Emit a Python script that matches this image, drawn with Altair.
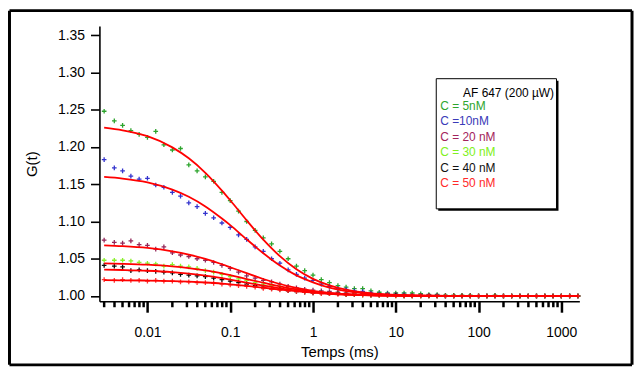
import altair as alt
import pandas as pd

# ---------------- data ----------------
series = ["C = 5nM", "C =10nM", "C = 20 nM", "C = 30 nM", "C = 40 nM", "C = 50 nM"]
point_colors = ["#22a022", "#2a2acc", "#8e1d52", "#84f020", "#000000", "#ff2a2a"]
text_colors = ["#2ea52e", "#3a3ab8", "#a3245c", "#80f020", "#111111", "#ff2a2a"]
legend_title = "AF 647 (200 µW)"

times = [0.003, 0.00398, 0.00501, 0.00631, 0.00794, 0.01, 0.0126, 0.0158, 0.02, 0.0251,
         0.0316, 0.0398, 0.0501, 0.0631, 0.0794, 0.1, 0.126, 0.158, 0.2, 0.251,
         0.316, 0.398, 0.501, 0.631, 0.794, 1.0, 1.26, 1.58, 2.0, 2.51,
         3.16, 3.98, 5.01, 6.31, 7.94, 10.0,
         12.6, 15.8, 20.0, 25.1, 31.6, 39.8, 50.1, 63.1, 79.4, 100.0, 126.0,
         158.0, 200.0, 251.0, 316.0, 398.0, 501.0, 631.0, 794.0, 1000.0, 1259.0, 1585.0]

g5 = [1.248, 1.235, 1.229, 1.222, 1.217, 1.213, 1.221, 1.203, 1.196, 1.198,
      1.176, 1.168, 1.160, 1.154, 1.139, 1.128, 1.114, 1.100, 1.088, 1.078,
      1.070, 1.060, 1.050, 1.040, 1.034, 1.028, 1.022, 1.018, 1.014, 1.012,
      1.010, 1.010, 1.007, 1.005, 1.004, 1.004,
      1.004, 1.004, 1.003, 1.002, 1.002, 1.001, 1.001, 1.001, 1.001, 1.000, 1.000,
      1.001, 1.000, 1.000, 1.000, 1.000, 1.000, 1.000, 1.000, 1.000, 1.000, 1.000]
g10 = [1.183, 1.172, 1.168, 1.161, 1.157, 1.158, 1.149, 1.146, 1.139, 1.134,
       1.125, 1.120, 1.111, 1.105, 1.098, 1.092, 1.082, 1.076, 1.066, 1.060,
       1.050, 1.044, 1.035, 1.029, 1.024, 1.021, 1.016, 1.013, 1.010, 1.009,
       1.007, 1.006, 1.004, 1.003, 1.003, 1.002,
       1.002, 1.001, 1.001, 1.001, 1.001, 1.000, 1.000, 1.000, 1.000, 1.000, 1.000,
       1.000, 1.000, 1.000, 1.000, 1.000, 1.000, 1.000, 1.000, 1.000, 1.000, 1.000]
g20 = [1.075, 1.072, 1.071, 1.074, 1.069, 1.068, 1.063, 1.066, 1.058, 1.055,
       1.053, 1.050, 1.048, 1.045, 1.041, 1.037, 1.032, 1.027, 1.024, 1.021,
       1.019, 1.016, 1.013, 1.011, 1.009, 1.008, 1.007, 1.006, 1.005, 1.004,
       1.004, 1.003, 1.003, 1.002, 1.002, 1.002,
       1.001, 1.001, 1.001, 1.001, 1.000, 1.000, 1.000, 1.000, 1.000, 1.000, 1.000,
       1.000, 1.000, 1.000, 1.000, 1.000, 1.000, 1.000, 1.000, 1.000, 1.000, 1.000]
g30 = [1.048, 1.048, 1.048, 1.047, 1.045, 1.044, 1.043, 1.040, 1.042, 1.040,
       1.039, 1.037, 1.034, 1.032, 1.029, 1.026, 1.023, 1.021, 1.018, 1.016,
       1.014, 1.012, 1.010, 1.008, 1.006, 1.005, 1.004, 1.003, 1.003, 1.002,
       1.002, 1.001, 1.001, 1.001, 1.001, 1.000,
       1.000, 1.000, 1.000, 1.000, 1.000, 1.000, 1.000, 1.000, 1.000, 1.000, 1.000,
       1.000, 1.000, 1.000, 1.000, 1.000, 1.000, 1.000, 1.000, 1.000, 1.000, 1.000]
g40 = [1.041, 1.040, 1.039, 1.034, 1.035, 1.034, 1.033, 1.032, 1.031, 1.029,
       1.028, 1.027, 1.026, 1.024, 1.022, 1.020, 1.018, 1.016, 1.014, 1.012,
       1.010, 1.009, 1.007, 1.006, 1.005, 1.004, 1.004, 1.003, 1.003, 1.002,
       1.002, 1.002, 1.001, 1.001, 1.001, 1.001,
       1.000, 1.000, 1.000, 1.000, 1.000, 1.000, 1.000, 1.000, 1.000, 1.000, 1.000,
       1.000, 1.000, 1.000, 1.000, 1.000, 1.000, 1.000, 1.000, 1.000, 1.000, 1.000]
g50 = [1.022, 1.021, 1.022, 1.021, 1.021, 1.020, 1.021, 1.020, 1.020, 1.019,
       1.019, 1.018, 1.018, 1.017, 1.016, 1.015, 1.014, 1.013, 1.012, 1.010,
       1.009, 1.008, 1.007, 1.006, 1.005, 1.004, 1.003, 1.003, 1.002, 1.002,
       1.002, 1.001, 1.001, 1.001, 1.001, 1.000,
       1.000, 1.000, 1.000, 1.000, 1.000, 1.000, 1.000, 1.000, 1.000, 1.000, 1.000,
       1.000, 1.000, 1.000, 1.000, 1.000, 1.000, 1.000, 1.000, 1.000, 1.000, 1.000]

fit_t = [0.003, 0.00501, 0.01, 0.02, 0.0316, 0.0501, 0.0794, 0.1, 0.158, 0.251,
         0.398, 0.631, 1.0, 1.58, 2.51, 3.98, 6.31, 10.0, 25.1, 100.0, 1585.0]
f5 = [1.2260, 1.2224, 1.2145, 1.1995, 1.1848, 1.1654, 1.1415, 1.1285, 1.1016, 1.0757,
      1.0535, 1.0359, 1.0230, 1.0142, 1.0084, 1.0048, 1.0027, 1.0014, 1.0004, 1.0001, 1.0000]
f10 = [1.1598, 1.1576, 1.1525, 1.1428, 1.1332, 1.1202, 1.1040, 1.0952, 1.0760, 1.0574,
       1.0409, 1.0277, 1.0183, 1.0111, 1.0065, 1.0037, 1.0021, 1.0012, 1.0003, 1.0000, 1.0000]
f20 = [1.0680, 1.0669, 1.0645, 1.0600, 1.0556, 1.0498, 1.0426, 1.0386, 1.0306, 1.0228,
       1.0161, 1.0108, 1.0069, 1.0043, 1.0025, 1.0014, 1.0008, 1.0004, 1.0001, 1.0000, 1.0000]
f30 = [1.0438, 1.0432, 1.0420, 1.0398, 1.0375, 1.0344, 1.0303, 1.0280, 1.0228, 1.0178,
       1.0129, 1.0089, 1.0060, 1.0039, 1.0024, 1.0014, 1.0008, 1.0005, 1.0001, 1.0000, 1.0000]
f40 = [1.0354, 1.0349, 1.0339, 1.0320, 1.0300, 1.0274, 1.0240, 1.0221, 1.0179, 1.0139,
       1.0102, 1.0071, 1.0048, 1.0031, 1.0019, 1.0011, 1.0006, 1.0004, 1.0001, 1.0000, 1.0000]
f50 = [1.0214, 1.0211, 1.0207, 1.0200, 1.0192, 1.0181, 1.0166, 1.0156, 1.0135, 1.0111,
       1.0086, 1.0064, 1.0044, 1.0029, 1.0019, 1.0012, 1.0007, 1.0004, 1.0001, 1.0000, 1.0000]

decades = [0.001, 0.01, 0.1, 1, 10, 100, 1000]
major_x = [0.01, 0.1, 1, 10, 100, 1000]
y_ticks = [1.00, 1.05, 1.10, 1.15, 1.20, 1.25, 1.30, 1.35]

# ---------------- tables ----------------
pts = []
for name, vals in zip(series, [g5, g10, g20, g30, g40, g50]):
    for t, g in zip(times, vals):
        pts.append({"t": t, "G": g, "series": name, "kind": "pts"})
fits = []
for name, vals in zip(series, [f5, f10, f20, f30, f40, f50]):
    for t, g in zip(fit_t, vals):
        fits.append({"t": t, "G": g, "series": name, "kind": "fit"})
df = pd.DataFrame(pts + fits)

XMIN, XMAX = 0.00263, 1650
YMIN, YMAX = 0.9929, 1.3624
minor_ticks = []
for d in decades:
    for m in range(2, 10):
        v = round(m * d, 6)
        if XMIN <= v <= XMAX:
            minor_ticks.append(v)

FONT = "Liberation Sans"
PLOT_W, PLOT_H = 483, 277
xscale = alt.Scale(type="log", domain=[XMIN, XMAX], nice=False)
yscale = alt.Scale(domain=[YMIN, YMAX], nice=False, zero=False)

common = dict(
    domainColor="black", domainWidth=1.6,
    labelFont=FONT, labelFontSize=14, labelColor="black",
    titleFont=FONT, titleFontSize=15, titleFontWeight="normal", titleColor="black",
)
x_axis = alt.Axis(values=major_x, format="~g", tickSize=11, tickColor="black", tickWidth=2.5,
                  labelPadding=13, title="Temps (ms)", titlePadding=6, **common)
y_axis = alt.Axis(values=y_ticks, format=".2f", tickSize=9, tickColor="black", tickWidth=1.6,
                  labelPadding=6, labelOverlap=False, title="G(t)", titlePadding=18, **common)

cross = "M-1,0L1,0M0,-1L0,1"
base = alt.Chart(df)

minor_df = pd.DataFrame({"t": minor_ticks})
minor = alt.Chart(minor_df).mark_rule(color="black", strokeWidth=2.5).encode(
    x=alt.X("t:Q", scale=xscale, axis=x_axis),
    y=alt.value(PLOT_H),
    y2=alt.value(PLOT_H + 6),
)

points = base.transform_filter("datum.kind == 'pts'").mark_point(
    shape=cross, filled=False, size=22, strokeWidth=1.3, opacity=0.95
).encode(
    x=alt.X("t:Q", scale=xscale, axis=x_axis),
    y=alt.Y("G:Q", scale=yscale, axis=y_axis),
    color=alt.Color("series:N", scale=alt.Scale(domain=series, range=point_colors), legend=None),
)

lines = base.transform_filter("datum.kind == 'fit'").mark_line(
    color="#ff0000", strokeWidth=1.8, interpolate="monotone"
).encode(
    x=alt.X("t:Q", scale=xscale, axis=x_axis),
    y=alt.Y("G:Q", scale=yscale, axis=y_axis),
    detail="series:N",
)

one = pd.DataFrame({"a": [0]})


def edge(x1, x2, y1, y2):
    return alt.Chart(one).mark_rule(color="black", strokeWidth=3).encode(
        x=alt.value(x1), x2=alt.value(x2), y=alt.value(y1), y2=alt.value(y2))


frame = [edge(-90.5, 536, -15.5, -15.5), edge(-90.5, 536, 341, 341),
         edge(-90.5, -90.5, -15.5, 341), edge(536, 536, -15.5, 341)]

shadow = alt.Chart(one).mark_rect(color="black").encode(
    x=alt.value(341), x2=alt.value(462), y=alt.value(55), y2=alt.value(186)
)
box = alt.Chart(one).mark_rect(fill="white", stroke="black", strokeWidth=1).encode(
    x=alt.value(339), x2=alt.value(460), y=alt.value(53), y2=alt.value(184)
)
texts = [alt.Chart(one).mark_text(
    align="right", baseline="middle", font=FONT, fontSize=12, color="black"
).encode(x=alt.value(457.5), y=alt.value(67), text=alt.value(legend_title))]
for i, (name, c) in enumerate(zip(series, text_colors)):
    texts.append(alt.Chart(one).mark_text(
        align="left", baseline="middle", font=FONT, fontSize=12, color=c
    ).encode(x=alt.value(343), y=alt.value(80 + 15.6 * i), text=alt.value(name)))

chart = alt.layer(points, lines, *frame, shadow, box, *texts, minor).properties(
    width=PLOT_W, height=PLOT_H,
    autosize=alt.AutoSizeParams(type="none"),
    padding={"left": 92, "top": 17, "right": 55, "bottom": 66},
    background="white",
).configure_view(strokeOpacity=0).configure_axis(grid=False)

chart.save("out.html", embed_options={"renderer": "svg", "actions": False})
